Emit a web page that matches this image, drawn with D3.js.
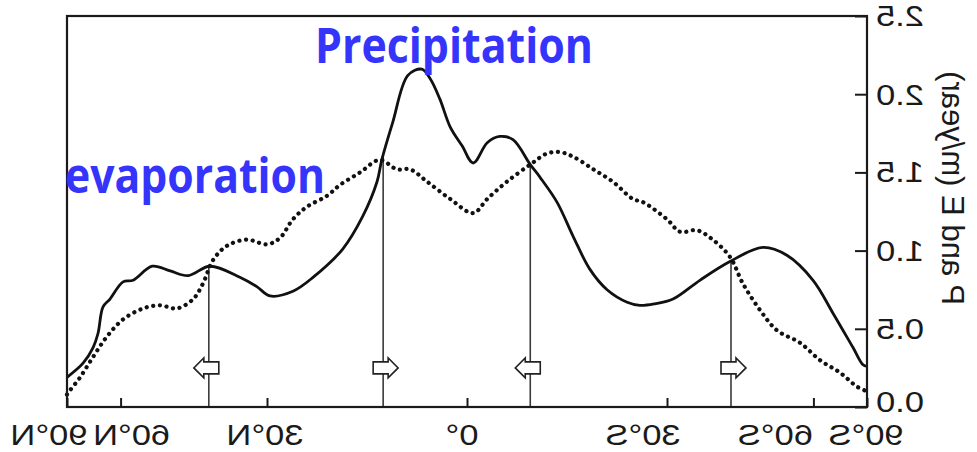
<!DOCTYPE html>
<html>
<head>
<meta charset="utf-8">
<script src="https://cdn.jsdelivr.net/npm/d3@7"></script>
<style>
  body { margin: 0; background: #fff; }
  text { font-family: "Liberation Sans", Arial, sans-serif; fill: #1a1a1a; }
</style>
</head>
<body>
<svg id="chart" width="977" height="452"></svg>
<script>
// zonal mean precipitation and evaporation (m/year) vs latitude (deg, + = north)
const precipLat = [90, 73.7, 69.2, 67.3, 65.5, 63.2, 59.3, 56.6, 51.9, 47.9, 44.2, 40.0, 34.6, 31.7, 29.5, 25.8, 22.6, 18.1, 15.1, 13.0,
    12.3, 10.7, 8.5, 6.5, 5.3, 3.9, 2.4, 0.7, -0.9, -2.9, -4.7, -6.6, -9.1, -10.5, -13.0, -15.4, -17.9, -20.5, -23.6, -25.6,
    -28, -31.0, -35.6, -41.1, -47.7, -53.1, -59.9, -66.2, -74.8, -81.9, -90];
const precipVal = [0.19, 0.28, 0.38, 0.47, 0.64, 0.69, 0.80, 0.81, 0.90, 0.87, 0.84, 0.90, 0.83, 0.77, 0.71, 0.74, 0.83, 1.01, 1.22, 1.44,
    1.58, 1.82, 2.12, 2.16, 2.10, 1.97, 1.79, 1.67, 1.56, 1.69, 1.73, 1.71, 1.55, 1.47, 1.31, 1.09, 0.88, 0.75, 0.67, 0.65,
    0.66, 0.69, 0.81, 0.93, 1.02, 0.97, 0.81, 0.60, 0.38, 0.27, 0.26];

const evapLat = [90, 86, 75.3, 69.2, 64.2, 59.3, 54.1, 50.1, 46.5, 43.2, 41.3, 39.4, 36.9, 33.4, 30, 27.9, 25.8, 23.6, 20.5, 18.5,
    15.5, 12.6, 10.1, 8.2, 5.7, 2.4, -0.9, -2.9, -5.7, -9.1, -11.5, -13.4, -15.4, -18.4, -21.4, -24.5, -26.1, -30, -32.2, -35.1,
    -37.9, -41.1, -43.6, -47.1, -50.8, -56.4, -61.9, -68.8, -77.2, -90];
const evapVal = [0.08, 0.09, 0.19, 0.32, 0.45, 0.56, 0.63, 0.65, 0.63, 0.69, 0.79, 0.94, 1.03, 1.07, 1.04, 1.08, 1.20, 1.28, 1.35, 1.42,
    1.50, 1.58, 1.52, 1.52, 1.44, 1.33, 1.24, 1.33, 1.44, 1.55, 1.62, 1.63, 1.60, 1.52, 1.44, 1.33, 1.31, 1.20, 1.12, 1.13,
    1.07, 0.96, 0.79, 0.62, 0.49, 0.41, 0.30, 0.22, 0.13, 0.10];

// latitudes where P = E, and direction of the moisture transport arrow (-1 left, 1 right)
const crossLat = [40.2, 12.1, -9.1, -41.3];
const arrowDir = [-1, 1, -1, 1];

const xTickLat = [90, 60, 30, 0, -30, -60, -90];
const xTickText = ['90°N', '60°N', '30°N', '0°', '30°S', '60°S', '90°S'];
const yTicks = [0, 0.5, 1.0, 1.5, 2.0, 2.5];
const yTickText = ['0.0', '0.5', '1.0', '1.5', '2.0', '2.5'];

const svg = d3.select('#chart');
const plotL = 67, plotR = 867, plotT = 16, plotB = 407;

// the figure is mirrored left/right: north on the left, axis on the right
const xs = d3.scaleLinear().domain([1, -1]).range([plotL, plotR]);
const x = lat => xs(Math.sin(lat * Math.PI / 180));
const y = d3.scaleLinear().domain([0, 2.5]).range([plotB, plotT]);

// nudges of labels as placed in the original
const xLabelShift = [-18, 11, -2, -5, -24, -38, -1];
const yLabelShift = [-5, 0, 0, 0, 1, 0];

function mirrorText(g, px, py, txt, anchor, size) {
    return g.append('text')
        .attr('transform', `translate(${px},${py}) scale(-1.15,1)`)
        .attr('text-anchor', anchor)
        .style('font-size', size + 'px')
        .text(txt);
}

function interp(lats, vals, lat) {
    for (let i = 0; i < lats.length - 1; i++) {
        if (lat <= lats[i] && lat >= lats[i + 1]) {
            const t = (lats[i] - lat) / (lats[i] - lats[i + 1]);
            return vals[i] + t * (vals[i + 1] - vals[i]);
        }
    }
    return 0;
}

// vertical lines at P = E
crossLat.forEach(function(lat) {
    svg.append('line')
        .attr('x1', x(lat)).attr('x2', x(lat))
        .attr('y1', y(interp(precipLat, precipVal, lat)))
        .attr('y2', y(0))
        .style('stroke', '#3a3a3a')
        .style('stroke-width', 1.6);
});

// curves
const line = d3.line()
    .x(d => x(d[0]))
    .y(d => y(d[1]))
    .curve(d3.curveCatmullRom.alpha(0.5));

svg.append('path')
    .attr('d', line(evapLat.map((d, i) => [d, evapVal[i]])))
    .style('fill', 'none')
    .style('stroke', '#111')
    .style('stroke-width', 4.2)
    .style('stroke-linecap', 'round')
    .style('stroke-dasharray', '0.1 6.6');

svg.append('path')
    .attr('d', line(precipLat.map((d, i) => [d, precipVal[i]])))
    .style('fill', 'none')
    .style('stroke', '#111')
    .style('stroke-width', 2.8)
    .style('stroke-linejoin', 'round');

// transport arrows
const ay = y(0.25);
crossLat.forEach(function(lat, i) {
    const cx = x(lat), s = arrowDir[i];
    const pts = [[-10, -6], [5, -6], [5, -10], [15, 0], [5, 10], [5, 6], [-10, 6]]
        .map(p => [cx + s * p[0], ay + p[1]]);
    svg.append('polygon')
        .attr('points', pts.map(p => p.join(',')).join(' '))
        .style('fill', '#fff')
        .style('stroke', '#222')
        .style('stroke-width', 1.6)
        .style('stroke-linejoin', 'miter');
});

// frame
svg.append('rect')
    .attr('x', plotL).attr('y', plotT)
    .attr('width', plotR - plotL).attr('height', plotB - plotT)
    .style('fill', 'none')
    .style('stroke', '#1a1a1a')
    .style('stroke-width', 2.2);

// inward ticks
svg.append('g')
    .attr('transform', `translate(0,${plotB})`)
    .call(d3.axisBottom(xs).tickValues(xTickLat.map(d => Math.sin(d * Math.PI / 180))).tickSize(-9).tickSizeOuter(0).tickFormat(''))
    .call(g => g.select('.domain').remove())
    .call(g => g.selectAll('line').style('stroke', '#1a1a1a').style('stroke-width', 2));

svg.append('g')
    .attr('transform', `translate(${plotR},0)`)
    .call(d3.axisLeft(y).tickValues(yTicks).tickSize(12).tickSizeOuter(0).tickFormat(''))
    .call(g => g.select('.domain').remove())
    .call(g => g.selectAll('line').style('stroke', '#1a1a1a').style('stroke-width', 2));

// mirrored tick labels
xTickLat.forEach(function(lat, i) {
    mirrorText(svg, x(lat) + xLabelShift[i], 445, xTickText[i], 'middle', 30);
});
yTicks.forEach(function(v, i) {
    mirrorText(svg, 876, y(v) + 10 + yLabelShift[i], yTickText[i], 'end', 30);
});

// mirrored axis title
svg.append('text')
    .attr('transform', 'translate(953,188) scale(-1,1) rotate(-90)')
    .attr('text-anchor', 'middle')
    .attr('dy', '0.35em')
    .style('font-size', '31px')
    .text('P and E (m/year)');

// overlay labels
svg.append('text')
    .attr('x', 315).attr('y', 63)
    .attr('textLength', 278).attr('lengthAdjust', 'spacingAndGlyphs')
    .style('font-family', '"Open Sans", "Noto Sans", sans-serif')
    .style('font-weight', 'bold')
    .style('font-size', '49px')
    .style('fill', '#3434fb')
    .text('Precipitation');

svg.append('text')
    .attr('x', 65).attr('y', 193)
    .attr('textLength', 260).attr('lengthAdjust', 'spacingAndGlyphs')
    .style('font-family', '"Open Sans", "Noto Sans", sans-serif')
    .style('font-weight', 'bold')
    .style('font-size', '49px')
    .style('fill', '#3434fb')
    .text('evaporation');
</script>
</body>
</html>
